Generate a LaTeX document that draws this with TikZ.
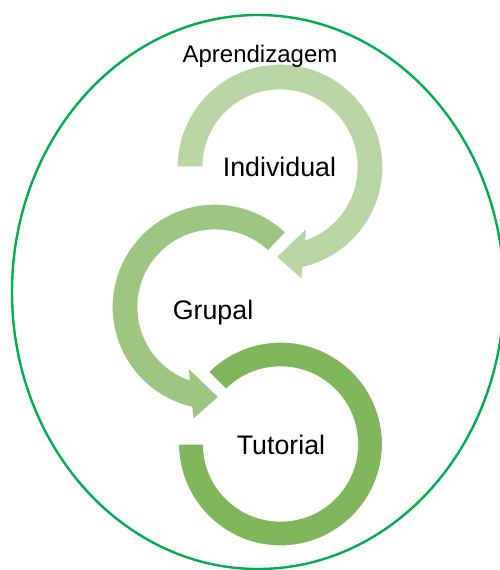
\documentclass[tikz,border=0pt]{standalone}
\usepackage{fontspec}
\setmainfont{Liberation Sans}
\usetikzlibrary{calc,shapes.geometric}
\definecolor{ringline}{RGB}{0,176,80}
\definecolor{indivcol}{RGB}{184,214,164}
\definecolor{grupcol}{RGB}{157,199,128}
\definecolor{tutcol}{RGB}{127,181,91}
\tikzset{
  frame/.style={draw=ringline,line width=2.4pt},
  shape1/.style={fill=indivcol,draw=white,line width=1.2pt,line join=miter},
  shape2/.style={fill=grupcol,draw=white,line width=1.2pt,line join=miter},
  shape3/.style={fill=tutcol,draw=white,line width=1.2pt,line join=miter},
  lbl/.style={anchor=base,inner sep=0pt,font=\fontsize{26.8}{32}\selectfont},
  toplbl/.style={anchor=base,inner sep=0pt,font=\fontsize{24}{29}\selectfont}
}
\begin{document}
\begin{tikzpicture}[x=1pt,y=1pt]
\useasboundingbox (0,0) rectangle (500,-570);
% outer ellipse
\node[frame,ellipse,minimum width=492pt,minimum height=554pt,inner sep=0pt] (ring) at (258,-292) {};
\coordinate (c1) at (280,-167);
\coordinate (c2) at (215,-307);
\coordinate (c3) at (280.5,-444);
% Individual arrow
\path[shape1] ($(c1)+(180:103)$) arc[start angle=180,end angle=-77,radius=103]
  -- ($(c1)+(-79:115)$) -- ($(c1)+(-92.5:90)$) -- ($(c1)+(-65.8:66)$)
  -- ($(c1)+(-70.4:77)$) arc[start angle=-70.4,end angle=180,radius=77] -- cycle;
% Grupal arrow
\path[shape2] ($(c2)+(46.5:103)$) arc[start angle=46.5,end angle=257,radius=103]
  -- ($(c2)+(259:115)$) -- ($(c2)+(272.5:90)$) -- ($(c2)+(245.8:66)$)
  -- ($(c2)+(250.4:77)$) arc[start angle=250.4,end angle=46.5,radius=77] -- cycle;
% Tutorial ring
\path[shape3] ($(c3)+(180:102)$) arc[start angle=180,end angle=495,radius=102]
  -- ($(c3)+(135:77)$) arc[start angle=495,end angle=180,radius=77] -- cycle;
% labels
\node[toplbl] (apr) at (260,-62) {Aprendizagem};
\node[lbl] (ind) at (279.5,-176) {Individual};
\node[lbl] (grp) at (213,-319) {Grupal};
\node[lbl] (tut) at (281,-454) {Tutorial};
\end{tikzpicture}
\end{document}
